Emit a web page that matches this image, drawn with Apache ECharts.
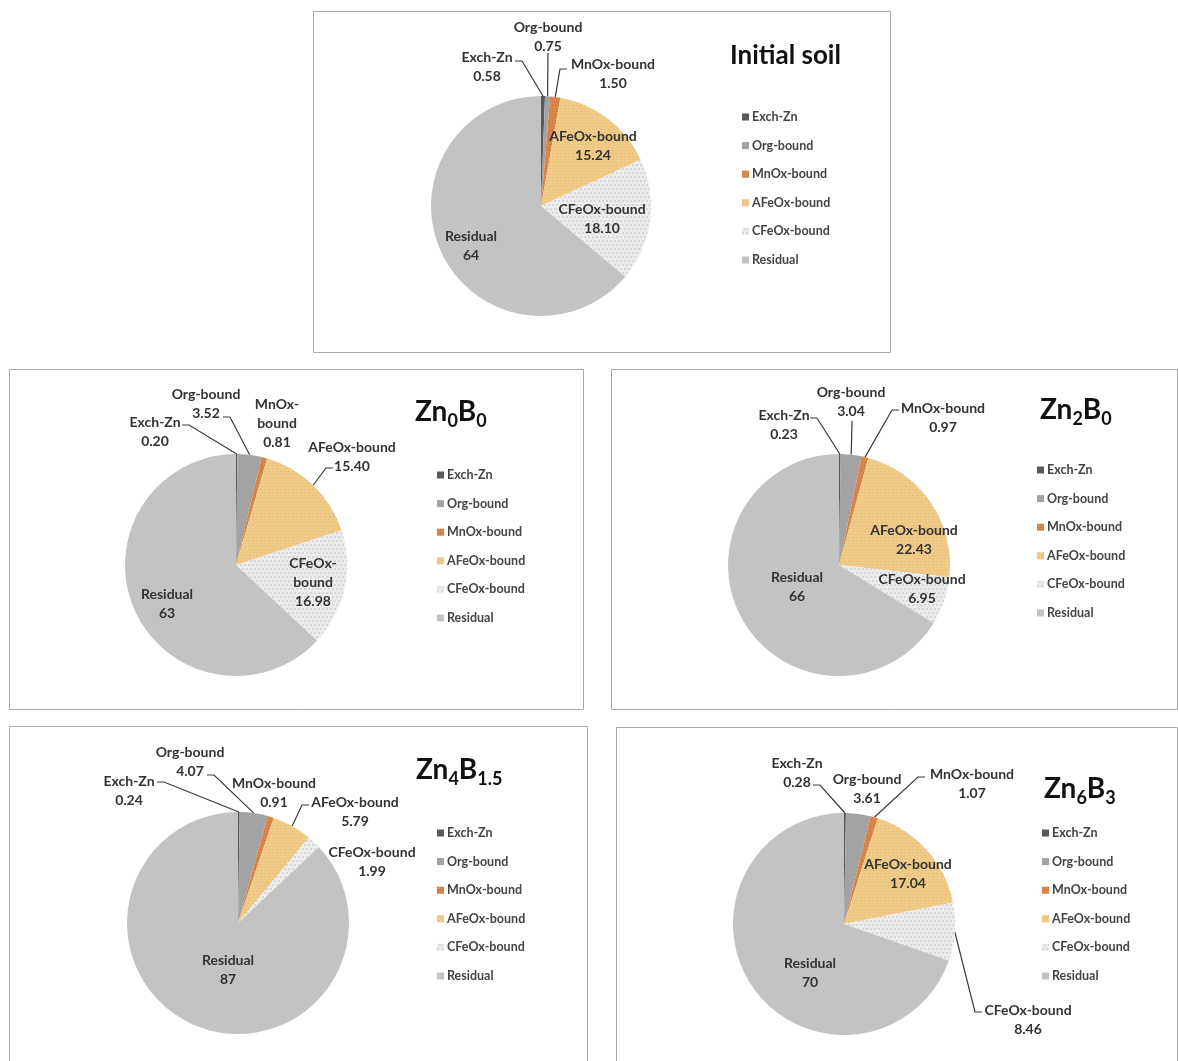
<!DOCTYPE html>
<html>
<head>
<meta charset="utf-8">
<script src="https://cdn.jsdelivr.net/npm/echarts@6/dist/echarts.min.js"></script>
<style>
html,body{margin:0;padding:0;background:#ffffff;}
#chart{width:1178px;height:1061px;}
</style>
</head>
<body>
<div id="chart"></div>
<script>
// ---------------- data ----------------
const fractions = ['Exch-Zn', 'Org-bound', 'MnOx-bound', 'AFeOx-bound', 'CFeOx-bound', 'Residual'];
const initialSoil = [0.58, 0.75, 1.50, 15.24, 18.10, 64];
const zn0b0 = [0.20, 3.52, 0.81, 15.40, 16.98, 63];
const zn2b0 = [0.23, 3.04, 0.97, 22.43, 6.95, 66];
const zn4b15 = [0.24, 4.07, 0.91, 5.79, 1.99, 87];
const zn6b3 = [0.28, 3.61, 1.07, 17.04, 8.46, 70];
// title parts: [text, isSubscript]
const titleInitial = [['Initial soil', false]];
const titleZn0B0 = [['Zn', false], ['0', true], ['B', false], ['0', true]];
const titleZn2B0 = [['Zn', false], ['2', true], ['B', false], ['0', true]];
const titleZn4B15 = [['Zn', false], ['4', true], ['B', false], ['1.5', true]];
const titleZn6B3 = [['Zn', false], ['6', true], ['B', false], ['3', true]];

// ---------------- styles / layout ----------------
const COLORS = ['#595959', '#a3a3a3', '#d8864a', '#f0cb88', '#ececec', '#c3c3c3'];
const FONT = 'Lato';
const TXT = '#333333';

// label placement: [x, y, mode, attachX, attachY]; mode: 'in' (no line), 'none' (outside, no line),
// 'out' (leader line with horizontal stub), 'v' (straight leader line)
const panels = [
  { values: initialSoil, title: titleInitial, bold: true, titlePos: [730, 40], box: [313, 11, 577, 341],
    center: [541, 206], r: 110, legend: [742, 110], wrap: [],
    labels: [[487, 67, 'out', 515, 61], [548, 37, 'v', 548, 53], [613, 74, 'out', 567, 69],
             [593, 146, 'in'], [602, 219, 'in'], [471, 246, 'in']] },
  { values: zn0b0, title: titleZn0B0, bold: false, titlePos: [415, 394], box: [9, 369, 574, 340],
    center: [236, 565], r: 111, legend: [437, 468], wrap: ['MnOx-bound', 'CFeOx-bound'],
    labels: [[155, 432, 'out', 182, 425], [206, 404, 'out', 223, 417], [277, 423, 'none'],
             [352, 457, 'out', 333, 468], [313, 582, 'in'], [167, 604, 'in']] },
  { values: zn2b0, title: titleZn2B0, bold: false, titlePos: [1040, 392], box: [611, 369, 566, 340],
    center: [839, 565], r: 111, legend: [1037, 463], wrap: [],
    labels: [[784, 425, 'out', 810, 418], [851, 402, 'v', 852, 421], [943, 418, 'out', 899, 410],
             [914, 540, 'in'], [922, 589, 'in'], [797, 587, 'in']] },
  { values: zn4b15, title: titleZn4B15, bold: false, titlePos: [416, 752], box: [9, 726, 578, 350],
    center: [238, 923], r: 111, legend: [437, 826], wrap: [],
    labels: [[129, 791, 'out', 157, 782], [190, 762, 'out', 207, 775], [274, 793, 'none'],
             [355, 812, 'out', 309, 805], [372, 862, 'none'], [228, 970, 'in']] },
  { values: zn6b3, title: titleZn6B3, bold: false, titlePos: [1044, 771], box: [616, 727, 561, 350],
    center: [844, 924], r: 111, legend: [1042, 826], wrap: [],
    labels: [[797, 773, 'out', 813, 785], [867, 789, 'none'], [972, 784, 'out', 925, 777],
             [908, 874, 'in'], [1028, 1020, 'out', 982, 1012], [810, 973, 'in']] }
];

function fmtVal(v) { return Number.isInteger(v) ? String(v) : v.toFixed(2); }

function sliceAnchor(panel, i) {
  const vals = panel.values;
  const sum = vals.reduce((s, v) => s + v, 0);
  let cum = 0;
  for (let k = 0; k < i; k++) cum += vals[k];
  const mid = (cum + vals[i] / 2) / sum * 2 * Math.PI;
  return [panel.center[0] + panel.r * Math.sin(mid), panel.center[1] - panel.r * Math.cos(mid)];
}

function makeLabelLayout(panel) {
  return function (p) {
    const L = panel.labels[p.dataIndex];
    const res = { x: L[0], y: L[1], align: 'center', verticalAlign: 'middle' };
    if (L[2] === 'out' || L[2] === 'v') {
      const a = sliceAnchor(panel, p.dataIndex);
      const att = [L[3], L[4]];
      if (L[2] === 'v') {
        res.labelLinePoints = [a, att];
      } else {
        const dir = a[0] < att[0] ? -1 : 1;
        res.labelLinePoints = [a, [att[0] + dir * 7, att[1]], att];
      }
    }
    return res;
  };
}

// decal textures for the patterned fills
const DECALS = [
  null,
  null,
  { symbol: 'rect', symbolSize: 1, dashArrayX: [[1, 2]], dashArrayY: [1, 2], color: 'rgba(150,80,30,0.25)' },
  { symbol: 'rect', symbolSize: 1, dashArrayX: [[2, 2], [0, 1, 2, 1]], dashArrayY: [1, 2], color: 'rgba(200,150,80,0.22)' },
  { symbol: 'circle', symbolSize: 1, dashArrayX: [[2, 2], [0, 2, 2, 0]], dashArrayY: [2, 2], color: 'rgba(150,150,150,0.35)' },
  null
];

const series = [];
const titles = [];
const legends = [];
const graphics = [];

panels.forEach((panel, pi) => {
  graphics.push({
    type: 'rect', silent: true, z: -10,
    shape: { x: panel.box[0] + 0.5, y: panel.box[1] + 0.5, width: panel.box[2], height: panel.box[3] },
    style: { fill: '#ffffff', stroke: '#a9a9a9', lineWidth: 1 }
  });
  let txt = '';
  panel.title.forEach(t => { txt += t[1] ? '{s|' + t[0] + '}' : '{m|' + t[0] + '}'; });
  titles.push({
    text: txt, left: panel.titlePos[0], top: panel.titlePos[1], padding: 0,
    textStyle: {
      rich: {
        m: { fontFamily: FONT, fontSize: panel.bold ? 26 : 28, fontWeight: 'bold',
             color: '#111111', lineHeight: panel.bold ? 32 : 36 },
        s: { fontFamily: FONT, fontSize: 18, fontWeight: 'bold', color: '#111111', lineHeight: 18, verticalAlign: 'bottom' }
      }
    }
  });
  legends.push({
    data: fractions, orient: 'vertical', left: panel.legend[0], top: panel.legend[1],
    icon: 'rect', itemWidth: 7, itemHeight: 7, itemGap: 14.6, padding: 0,
    selectedMode: false,
    textStyle: { fontFamily: FONT, fontSize: 12.5, fontWeight: 'bold', color: '#444444', lineHeight: 14, padding: [0, 0, 0, -2] }
  });
  series.push({
    type: 'pie',
    center: panel.center,
    radius: panel.r,
    startAngle: 90,
    clockwise: true,
    silent: true,
    animation: false,
    avoidLabelOverlap: false,
    itemStyle: { borderWidth: 0 },
    label: {
      show: true, position: 'outside', color: TXT, fontFamily: FONT, fontWeight: 'bold',
      fontSize: 14, lineHeight: 19,
      formatter: function (p) {
        const nm = panel.wrap.indexOf(p.name) >= 0 ? p.name.replace('-', '-\n') : p.name;
        return nm + '\n' + fmtVal(p.value);
      }
    },
    labelLine: { show: true, length: 10, length2: 5, smooth: false, lineStyle: { color: '#3a3a3a', width: 1.2 } },
    labelLayout: makeLabelLayout(panel),
    data: fractions.map((name, i) => {
      const it = {
        name: name,
        value: panel.values[i],
        itemStyle: { color: COLORS[i] },
        labelLine: { show: panel.labels[i][2] === 'out' || panel.labels[i][2] === 'v' }
      };
      if (DECALS[i]) it.itemStyle.decal = DECALS[i];
      return it;
    })
  });
});

const chart = echarts.init(document.getElementById('chart'), null, { renderer: 'canvas' });
chart.setOption({
  backgroundColor: '#ffffff',
  animation: false,
  color: COLORS,
  graphic: graphics,
  title: titles,
  legend: legends,
  series: series
});
</script>
</body>
</html>
